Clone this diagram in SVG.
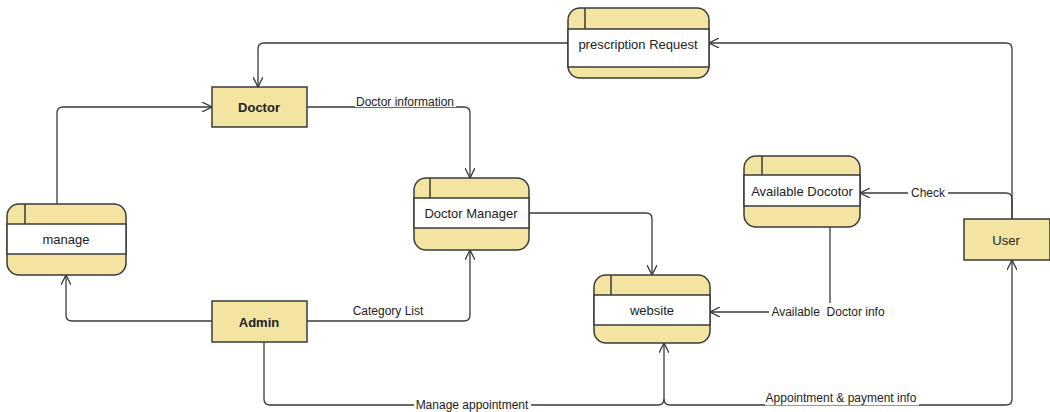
<svg xmlns="http://www.w3.org/2000/svg" width="1050" height="412" viewBox="0 0 1050 412">
  <style>
    .box { fill: #F4E4A1; stroke: #3a3a3a; stroke-width: 1.5; }
    .band { fill: #ffffff; stroke: #3a3a3a; stroke-width: 1.5; }
    .div { stroke: #3a3a3a; stroke-width: 1.5; }
    .lbl { font-family: "Liberation Sans", Arial, sans-serif; font-size: 13px; fill: #222; text-anchor: middle; dominant-baseline: central; }
    .bold { font-weight: bold; }
    .edge { fill: none; stroke: #3a3a3a; stroke-width: 1.3; marker-end: url(#open); }
    .elbl { font-family: "Liberation Sans", Arial, sans-serif; font-size: 12px; fill: #222; text-anchor: middle; dominant-baseline: central; }
    .bg { fill: #ffffff; }
  </style>
  <defs>
    <marker id="open" markerWidth="12" markerHeight="10" refX="10" refY="5" orient="auto" markerUnits="userSpaceOnUse">
      <path d="M0,0 L10,5 L0,10" fill="none" stroke="#3a3a3a" stroke-width="1.3"/>
    </marker>
  </defs>
  <rect width="1050" height="412" fill="#ffffff"/>

  <!-- connectors -->
  <g id="connectors">
    <path class="edge" d="M568,43 H264 Q258,43 258,49 V87"/>
    <path class="edge" d="M1012,219 V49 Q1012,43 1006,43 H709"/>
    <path class="edge" d="M57,204 V113 Q57,107 63,107 H212"/>
    <path class="edge" d="M307,107 H464 Q470,107 470,113 V178"/>
    <path class="edge" d="M212,321 H72 Q66,321 66,315 V275"/>
    <path class="edge" d="M307,321 H464 Q470,321 470,315 V250"/>
    <path class="edge" d="M529,213 H646 Q652,213 652,219 V275"/>
    <path class="edge" d="M830,227 V306 Q830,312 824,312 H710"/>
    <path class="edge" d="M1012,219 V199 Q1012,193 1006,193 H860"/>
    <path class="edge" d="M264,342 V399 Q264,405 270,405 H658 Q664,405 664,399 V343"/>
    <path class="edge" d="M664,399 Q664,405 670,405 H1006 Q1012,405 1012,399 V260"/>

    <!-- connector labels -->
    <rect class="bg" x="355" y="95" width="101" height="12"/>
    <text class="elbl" x="405" y="102">Doctor information</text>
    <text class="elbl" x="388" y="311">Category List</text>
    <rect class="bg" x="769" y="303" width="119" height="17"/>
    <text class="elbl" x="828" y="312" xml:space="preserve">Available  Doctor info</text>
    <rect class="bg" x="908" y="185" width="40" height="15"/>
    <text class="elbl" x="928" y="193">Check</text>
    <rect class="bg" x="414" y="397" width="117" height="15"/>
    <text class="elbl" x="472" y="405">Manage appointment</text>
    <rect class="bg" x="765" y="389" width="154" height="16.3"/>
    <text class="elbl" x="841" y="398">Appointment &amp; payment info</text>
  </g>

  <!-- data stores -->
  <g id="prescription-request">
    <rect class="box" x="568" y="8" width="141" height="70" rx="12"/>
    <rect class="band" x="568" y="29" width="141" height="38"/>
    <line class="div" x1="585" y1="8" x2="585" y2="29"/>
    <text class="lbl" x="638" y="44">prescription Request</text>
  </g>
  <g id="manage">
    <rect class="box" x="7" y="204" width="119" height="71" rx="12"/>
    <rect class="band" x="7" y="224" width="119" height="30"/>
    <line class="div" x1="25" y1="204" x2="25" y2="224"/>
    <text class="lbl" x="66" y="239">manage</text>
  </g>
  <g id="doctor-manager">
    <rect class="box" x="414" y="178" width="115" height="72" rx="12"/>
    <rect class="band" x="414" y="198" width="115" height="30"/>
    <line class="div" x1="430" y1="178" x2="430" y2="198"/>
    <text class="lbl" x="471" y="213">Doctor Manager</text>
  </g>
  <g id="website">
    <rect class="box" x="594" y="275" width="116" height="68" rx="12"/>
    <rect class="band" x="594" y="295" width="116" height="30"/>
    <line class="div" x1="611" y1="275" x2="611" y2="295"/>
    <text class="lbl" x="652" y="310">website</text>
  </g>
  <g id="available-docotor">
    <rect class="box" x="744" y="156" width="116" height="71" rx="12"/>
    <rect class="band" x="744" y="175" width="116" height="31"/>
    <line class="div" x1="762" y1="156" x2="762" y2="175"/>
    <text class="lbl" x="802" y="191">Available Docotor</text>
  </g>

  <!-- external entities -->
  <g id="doctor">
    <rect class="box" x="212" y="87" width="95" height="40"/>
    <text class="lbl bold" x="259" y="107">Doctor</text>
  </g>
  <g id="admin">
    <rect class="box" x="212" y="301" width="95" height="41"/>
    <text class="lbl bold" x="259" y="322">Admin</text>
  </g>
  <g id="user">
    <rect class="box" x="964" y="219" width="86" height="41"/>
    <text class="lbl" x="1006" y="240">User</text>
  </g>
</svg>
